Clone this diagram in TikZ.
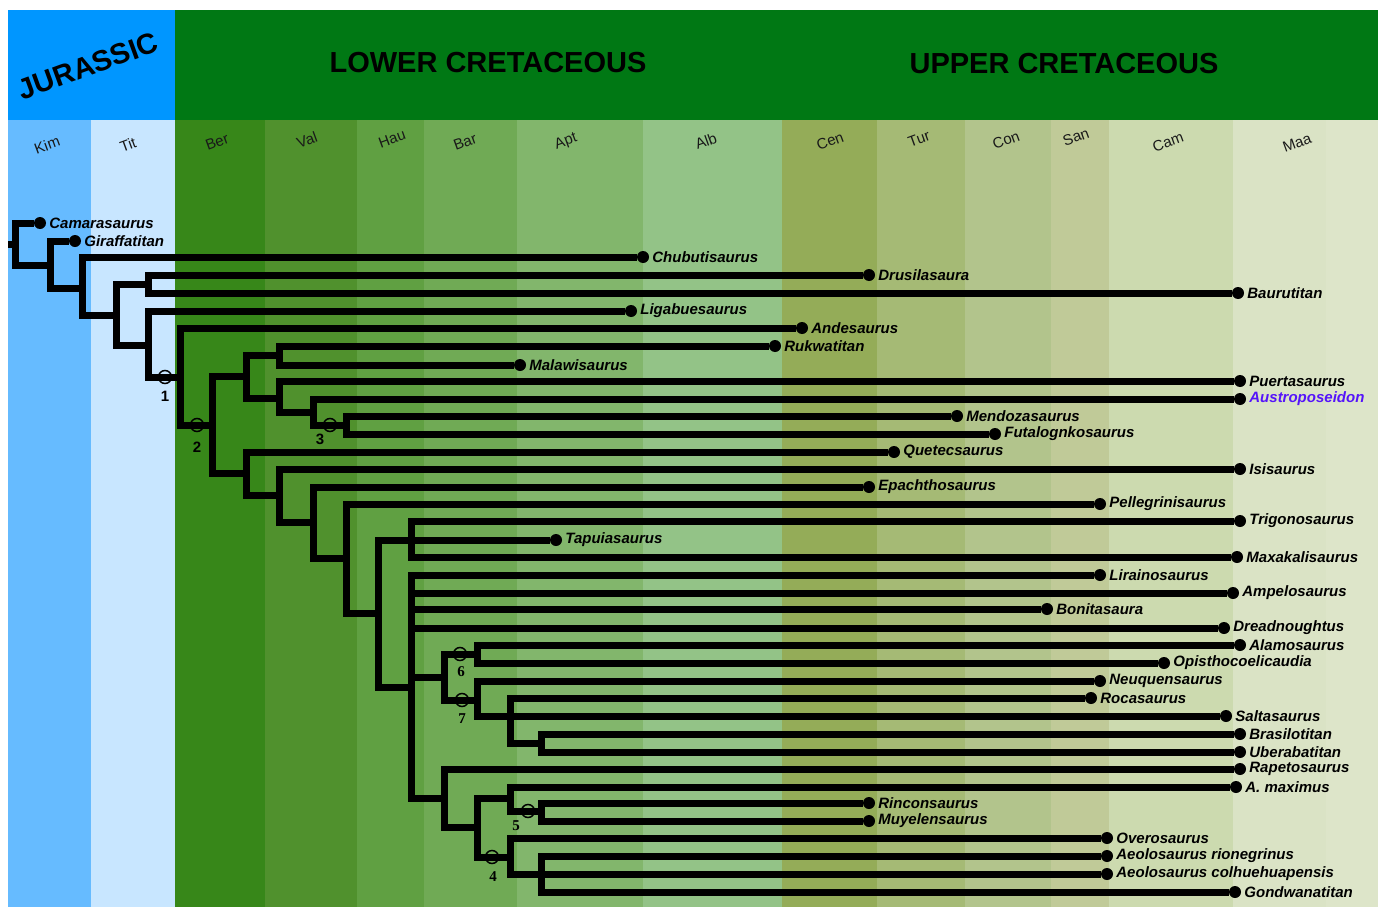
\documentclass[tikz,border=0pt]{standalone}
\usepackage{fontspec}
\setmainfont{Liberation Sans}
\newfontfamily\numserif{Liberation Serif}
\usetikzlibrary{positioning}
\definecolor{jurhead}{RGB}{0,150,255}
\definecolor{crethead}{RGB}{0,120,20}
\definecolor{kimc}{RGB}{102,187,255}
\definecolor{titc}{RGB}{200,230,255}
\definecolor{berc}{RGB}{55,135,25}
\definecolor{valc}{RGB}{80,145,45}
\definecolor{hauc}{RGB}{96,160,66}
\definecolor{barc}{RGB}{112,170,85}
\definecolor{aptc}{RGB}{130,182,108}
\definecolor{albc}{RGB}{147,195,135}
\definecolor{cenc}{RGB}{148,172,88}
\definecolor{turc}{RGB}{165,186,117}
\definecolor{conc}{RGB}{178,196,140}
\definecolor{sanc}{RGB}{192,202,152}
\definecolor{camc}{RGB}{204,218,175}
\definecolor{maac}{RGB}{218,227,197}
\definecolor{maabc}{RGB}{221,229,201}
\definecolor{newtaxon}{RGB}{85,20,250}
\tikzset{
leaf/.style={circle, fill=black, inner sep=0pt, minimum size=12pt},
taxon/.style={inner sep=0pt, anchor=west, font=\fontsize{15}{15}\selectfont\bfseries\itshape},
branch/.style={line width=7pt, line join=miter, black},
synapo/.style={circle, draw=black, line width=1.5pt, inner sep=0pt, minimum size=13pt},
numlab/.style={inner sep=0pt, font=\fontsize{15}{15}\selectfont\bfseries},
era/.style={inner sep=0pt, font=\fontsize{29}{29}\selectfont\bfseries},
stage/.style={inner sep=0pt, rotate=20, font=\fontsize{15}{15}\selectfont, text=black!90}
}

\begin{document}
\begin{tikzpicture}[x=1pt, y=-1pt]
\useasboundingbox (0,0) rectangle (1383,907);

% time scale
\fill[jurhead] (8,10) rectangle (175,120);
\fill[crethead] (175,10) rectangle (1378,120);
\foreach \a/\b/\col/\lx/\ly/\lab in {8/91/kimc/47/145/Kim, 91/175/titc/128/145/Tit,
  175/265/berc/217/142/Ber, 265/357/valc/307/140/Val, 357/424/hauc/392/139/Hau,
  424/517/barc/465/142/Bar, 517/643/aptc/566/142/Apt, 643/782/albc/706/141/Alb,
  782/877/cenc/830/141/Cen, 877/965/turc/919/139/Tur, 965/1051/conc/1006/140/Con,
  1051/1109/sanc/1076/137/San, 1109/1233/camc/1168/142/Cam, 1233/1378/maac/1297/143/Maa}
{
  \fill[\col] (\a,120) rectangle (\b,907);
  \node[stage] (st-\lab) at (\lx,\ly) {\lab};
}
\fill[maabc] (1326,120) rectangle (1378,907);

\node[era, rotate=20] (jur) at (88,66) {JURASSIC};
\node[era] (lower) at (488,63) {LOWER CRETACEOUS};
\node[era] (upper) at (1064,64) {UPPER CRETACEOUS};

% terminal taxa
\foreach \n/\x/\y/\t in {camara/40/223/Camarasaurus, girafa/75/241/Giraffatitan,
  chubut/643/257/Chubutisaurus, drusil/869/275/Drusilasaura, bauru/1238/293/Baurutitan,
  ligab/631/311/Ligabuesaurus, andes/802/328/Andesaurus, rukwa/775/346/Rukwatitan,
  malawi/520/365/Malawisaurus, puerta/1240/381/Puertasaurus,
  mendoza/957/416/Mendozasaurus, futalo/995/434/Futalognkosaurus,
  quetec/894/452/Quetecsaurus, isis/1240/469/Isisaurus, epach/869/487/Epachthosaurus,
  pelleg/1100/504/Pellegrinisaurus, trigon/1240/521/Trigonosaurus,
  tapuia/556/540/Tapuiasaurus, maxaka/1237/557/Maxakalisaurus,
  lirain/1100/575/Lirainosaurus, ampelo/1233/593/Ampelosaurus,
  bonita/1047/609/Bonitasaura, dread/1224/628/Dreadnoughtus,
  alamo/1240/645/Alamosaurus, opisth/1164/663/Opisthocoelicaudia,
  neuqu/1100/681/Neuquensaurus, roca/1091/698/Rocasaurus, salta/1226/716/Saltasaurus,
  brasil/1240/734/Brasilotitan, ubera/1240/752/Uberabatitan,
  rapeto/1240/769/Rapetosaurus, amax/1236/787/A. maximus,
  rincon/869/803/Rinconsaurus, muyel/869/821/Muyelensaurus,
  overo/1107/838/Overosaurus, aeolr/1107/856/Aeolosaurus rionegrinus,
  aeolc/1107/874/Aeolosaurus colhuehuapensis, gondwa/1235/892/Gondwanatitan}
{
  \node[leaf] (\n) at (\x,\y) {};
  \node[taxon, right=3pt of \n] (\n-lab) {\t};
}
\node[leaf] (austro) at (1240,399) {};
\node[taxon, right=3pt of austro, text=newtaxon] (austro-lab) {Austroposeidon};

% internal nodes
\coordinate (stem) at (8,244);
\coordinate (root) at (15,244);
\coordinate (nA) at (50,265);
\coordinate (nB) at (82,288);
\coordinate (nC) at (116,315);
\coordinate (nD) at (148,284);
\coordinate (nE) at (148,345);
\coordinate (nF) at (180,377);
\coordinate (nG) at (212,425);
\coordinate (nH) at (246,376);
\coordinate (nI) at (279,355);
\coordinate (nJ) at (279,398);
\coordinate (nK) at (313,412);
\coordinate (nL) at (346,425);
\coordinate (nM) at (246,473);
\coordinate (nN) at (279,495);
\coordinate (nO) at (313,522);
\coordinate (nP) at (346,558);
\coordinate (nQ) at (378,613);
\coordinate (nR) at (411,540);
\coordinate (nS) at (411,687);
\coordinate (nT) at (444,677);
\coordinate (nU) at (477,654);
\coordinate (nV) at (477,700);
\coordinate (nW) at (510,716);
\coordinate (nX) at (541,743);
\coordinate (nY) at (444,798);
\coordinate (nZ) at (477,827);
\coordinate (nAA) at (510,798);
\coordinate (nAB) at (541,811);
\coordinate (nAC) at (510,857);
\coordinate (nAD) at (541,874);

\draw[branch] (stem) -- (root);
\foreach \p/\c in {root/camara, root/nA, nA/girafa, nA/nB, nB/chubut, nB/nC,
  nC/nD, nC/nE, nD/drusil, nD/bauru, nE/ligab, nE/nF, nF/andes, nF/nG,
  nG/nH, nG/nM, nH/nI, nH/nJ, nI/rukwa, nI/malawi, nJ/puerta, nJ/nK,
  nK/austro, nK/nL, nL/mendoza, nL/futalo, nM/quetec, nM/nN, nN/isis, nN/nO,
  nO/epach, nO/nP, nP/pelleg, nP/nQ, nQ/nR, nQ/nS, nR/trigon, nR/tapuia,
  nR/maxaka, nS/lirain, nS/ampelo, nS/bonita, nS/dread, nS/nT, nS/nY,
  nT/nU, nT/nV, nU/alamo, nU/opisth, nV/neuqu, nV/nW, nW/roca, nW/salta,
  nW/nX, nX/brasil, nX/ubera, nY/rapeto, nY/nZ, nZ/nAA, nZ/nAC, nAA/amax,
  nAA/nAB, nAB/rincon, nAB/muyel, nAC/overo, nAC/nAD, nAD/aeolr, nAD/aeolc,
  nAD/gondwa}
  \draw[branch] (\p) |- (\c);

% numbered nodes
\node[synapo] (m1) at (165,377) {};
\node[synapo] (m2) at (197,425) {};
\node[synapo] (m3) at (330,425) {};
\node[synapo] (m4) at (492,857) {};
\node[synapo] (m5) at (528,811) {};
\node[synapo] (m6) at (460,654) {};
\node[synapo] (m7) at (462,700) {};
\node[numlab] (n1) at (165,396) {1};
\node[numlab] (n2) at (197,447) {2};
\node[numlab] (n3) at (320,439) {3};
\node[numlab, font=\fontsize{15}{15}\selectfont\numserif\bfseries] (n4) at (493,877) {4};
\node[numlab, font=\fontsize{15}{15}\selectfont\numserif\bfseries] (n5) at (516,826) {5};
\node[numlab, font=\fontsize{15}{15}\selectfont\numserif\bfseries] (n6) at (461,672) {6};
\node[numlab, font=\fontsize{15}{15}\selectfont\numserif\bfseries] (n7) at (462,719) {7};
\end{tikzpicture}
\end{document}
